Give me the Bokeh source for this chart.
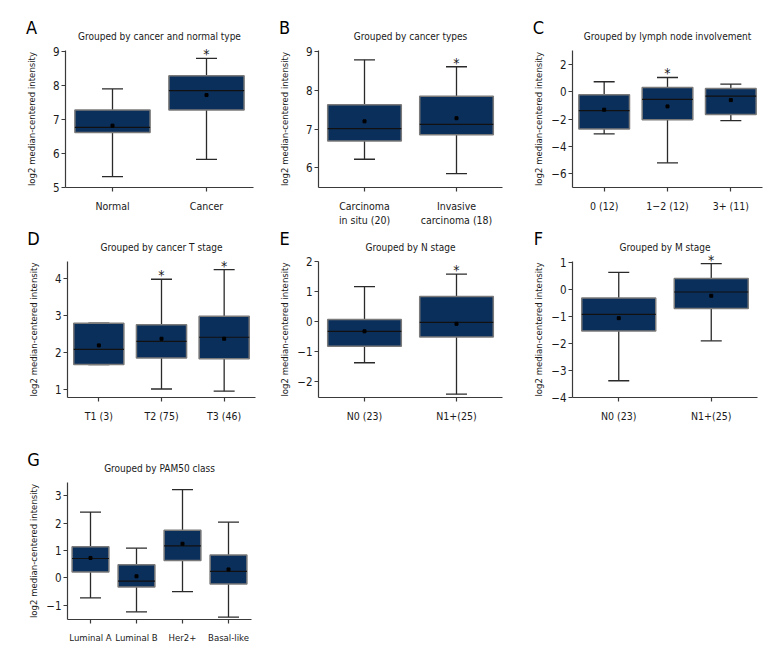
import math
from bokeh.plotting import figure
from bokeh.models import Range1d, FixedTicker, Label, ColumnDataSource
from bokeh.layouts import column, row
from bokeh.embed import file_html
from bokeh.resources import INLINE
from bokeh.core.properties import value

# ---------------- data ----------------
A_cats = ["Normal", "Cancer"]
A_lower = [5.32, 5.83]
A_q1 = [6.62, 7.28]
A_median = [6.77, 7.85]
A_q3 = [7.28, 8.29]
A_upper = [7.90, 8.80]
A_mean = [6.82, 7.72]
A_sig = [False, True]
A_yticks = [5, 6, 7, 8, 9]

B_cats = ["Carcinoma\nin situ (20)", "Invasive\ncarcinoma (18)"]
B_lower = [6.22, 5.85]
B_q1 = [6.69, 6.85]
B_median = [7.01, 7.12]
B_q3 = [7.63, 7.85]
B_upper = [8.79, 8.61]
B_mean = [7.20, 7.28]
B_sig = [False, True]
B_yticks = [6, 7, 8, 9]

C_cats = ["0 (12)", "1\u22122 (12)", "3+ (11)"]
C_lower = [-3.09, -5.20, -2.12]
C_q1 = [-2.73, -2.05, -1.68]
C_median = [-1.39, -0.57, -0.33]
C_q3 = [-0.23, 0.30, 0.23]
C_upper = [0.72, 1.03, 0.55]
C_mean = [-1.32, -1.08, -0.62]
C_sig = [False, True, False]
C_yticks = [-6, -4, -2, 0, 2]

D_cats = ["T1 (3)", "T2 (75)", "T3 (46)"]
D_lower = [1.66, 1.00, 0.94]
D_q1 = [1.66, 1.84, 1.82]
D_median = [2.07, 2.29, 2.40]
D_q3 = [2.78, 2.74, 2.97]
D_upper = [2.78, 3.97, 4.23]
D_mean = [2.18, 2.36, 2.36]
D_sig = [False, True, True]
D_yticks = [1, 2, 3, 4]

E_cats = ["N0 (23)", "N1+(25)"]
E_lower = [-1.38, -2.43]
E_q1 = [-0.83, -0.52]
E_median = [-0.33, -0.03]
E_q3 = [0.06, 0.83]
E_upper = [1.16, 1.58]
E_mean = [-0.33, -0.08]
E_sig = [False, True]
E_yticks = [-2, -1, 0, 1, 2]

F_cats = ["N0 (23)", "N1+(25)"]
F_lower = [-3.38, -1.90]
F_q1 = [-1.54, -0.70]
F_median = [-0.92, -0.09]
F_q3 = [-0.31, 0.41]
F_upper = [0.64, 0.96]
F_mean = [-1.06, -0.23]
F_sig = [False, True]
F_yticks = [-4, -3, -2, -1, 0, 1]

G_cats = ["Luminal A", "Luminal B", "Her2+", "Basal-like"]
G_lower = [-0.73, -1.24, -0.50, -1.43]
G_q1 = [0.22, -0.33, 0.64, -0.22]
G_median = [0.71, -0.12, 1.17, 0.24]
G_q3 = [1.14, 0.48, 1.74, 0.84]
G_upper = [2.41, 1.09, 3.23, 2.04]
G_mean = [0.73, 0.06, 1.25, 0.31]
G_sig = [False, False, False, False]
G_yticks = [-1, 0, 1, 2, 3]

titles = ["Grouped by cancer and normal type", "Grouped by cancer types",
          "Grouped by lymph node involvement", "Grouped by cancer T stage",
          "Grouped by N stage", "Grouped by M stage", "Grouped by PAM50 class"]
letters = ["A", "B", "C", "D", "E", "F", "G"]
y_label = "log2 median-centered intensity"

# ---------------- style ----------------
FONT = "'Liberation Sans Narrow', 'DejaVu Sans Condensed', sans-serif"
BOX_FILL = "#0b2f5b"
BOX_LINE = "#7a7a7a"
WHISK = "#2a2a2a"
AXIS = "#3a3a3a"
TEXT = "#1a1a1a"


def panel(letter, title, cats, lower, q1, med, q3, upper, mean, sig, yticks,
          ystart, yend, geo, xfont="10.5px"):
    # geo: pixel geometry of the panel (picture coordinates)
    fig_left, fig_w, axis_x, right_x, row_top, row_h, top_px, axis_y = geo
    n = len(cats)
    ppx = (right_x - axis_x) / n                 # pixels per category
    ppy = (axis_y - top_px) / (yend - ystart)   # pixels per y unit
    x0 = 0.5 - (axis_x - fig_left) / ppx
    x1 = x0 + fig_w / ppx
    y0 = ystart - (row_top + row_h - axis_y) / ppy
    y1 = ystart + (axis_y - row_top) / ppy

    def dx(px):
        return 0.5 + (px - axis_x) / ppx

    def dy(py):
        return ystart + (axis_y - py) / ppy

    p = figure(x_range=Range1d(x0, x1), y_range=Range1d(y0, y1),
               frame_width=fig_w, frame_height=row_h,
               min_border=0, min_border_left=0, min_border_right=0,
               min_border_top=0, min_border_bottom=0,
               output_backend="svg", toolbar_location=None)
    p.outline_line_color = None
    p.xgrid.visible = False
    p.ygrid.visible = False

    xs = list(range(1, n + 1))
    src = ColumnDataSource(dict(x=xs, lower=lower, q1=q1, med=med, q3=q3,
                                upper=upper, mean=mean))
    # whiskers
    p.segment(x0="x", y0="q3", x1="x", y1="upper", source=src, line_color=WHISK, line_width=1.3)
    p.segment(x0="x", y0="lower", x1="x", y1="q1", source=src, line_color=WHISK, line_width=1.3)
    p.scatter(x="x", y="upper", source=src, marker="dash", size=21, line_color=WHISK, line_width=1.3)
    p.scatter(x="x", y="lower", source=src, marker="dash", size=21, line_color=WHISK, line_width=1.3)
    # boxes
    p.vbar(x="x", bottom="q1", top="q3", width=0.8, source=src,
           fill_color=BOX_FILL, line_color=BOX_LINE, line_width=1.5)
    # median
    p.vbar(x="x", bottom="med", top="med", width=0.8, source=src,
           fill_alpha=0, line_color="#111111", line_width=1.2)
    # mean
    p.scatter(x="x", y="mean", source=src, marker="square", size=3,
              fill_color="black", line_color="black")
    # significance stars
    sx = [x for x, s in zip(xs, sig) if s]
    sy = [u for u, s in zip(upper, sig) if s]
    if sx:
        p.text(x=sx, y=sy, text=["*"] * len(sx), text_align="center",
               text_baseline="bottom", y_offset=4, text_font=value(FONT),
               text_font_size="14px", text_color=TEXT)

    # axes (drawn at fixed data locations inside the full-size frame)
    for ax in (p.xaxis, p.yaxis):
        ax.axis_line_color = AXIS
        ax.axis_line_width = 1.2
        ax.major_tick_line_color = AXIS
        ax.major_tick_line_width = 1.2
        ax.major_tick_out = 4
        ax.major_tick_in = 0
        ax.minor_tick_line_color = None
        ax.major_label_text_font = FONT
        ax.major_label_text_color = TEXT
    p.xaxis.fixed_location = ystart
    p.xaxis.ticker = FixedTicker(ticks=xs)
    p.xaxis.major_label_overrides = {x: c for x, c in zip(xs, cats)}
    p.xaxis.bounds = (0.5, n + 0.5)
    p.xaxis.major_label_text_font_size = xfont
    p.xaxis.major_label_standoff = 8
    p.yaxis.fixed_location = 0.5
    p.yaxis.bounds = (ystart, yend)
    p.yaxis.ticker = FixedTicker(ticks=yticks)
    p.yaxis.major_label_overrides = {t: str(t).replace("-", "\u2212") for t in yticks}
    p.yaxis.major_label_text_font_size = "11.5px"
    p.yaxis.major_label_standoff = 2

    p.add_layout(Label(x=dx(axis_x - 34), y=dy((axis_y + top_px) / 2), angle=math.pi / 2,
                       text=y_label, text_align="center", text_baseline="middle",
                       text_font=FONT, text_font_size="9.5px", text_color=TEXT))
    p.add_layout(Label(x=dx((axis_x + right_x) / 2), y=dy(top_px - 14), text=title,
                       text_align="center", text_baseline="middle",
                       text_font=FONT, text_font_size="10px", text_color=TEXT))
    p.add_layout(Label(x=dx(axis_x - 34), y=dy(top_px - 23), text=letter,
                       text_align="center", text_baseline="middle",
                       text_font=FONT, text_font_size="18px", text_color="#000000"))
    return p


# geometry: fig_left, fig_width, axis_x, right_x, row_top, row_height, data_top, axis_y
pA = panel(letters[0], titles[0], A_cats, A_lower, A_q1, A_median, A_q3, A_upper, A_mean, A_sig,
           A_yticks, 5.0, 9.03, (0, 263, 65, 253, 0, 227, 50, 187))
pB = panel(letters[1], titles[1], B_cats, B_lower, B_q1, B_median, B_q3, B_upper, B_mean, B_sig,
           B_yticks, 5.49, 9.03, (263, 255, 318, 502, 0, 227, 50, 187))
pC = panel(letters[2], titles[2], C_cats, C_lower, C_q1, C_median, C_q3, C_upper, C_mean, C_sig,
           C_yticks, -7.0, 3.0, (518, 254, 572, 762, 0, 227, 50, 187))

pD = panel(letters[3], titles[3], D_cats, D_lower, D_q1, D_median, D_q3, D_upper, D_mean, D_sig,
           D_yticks, 0.77, 4.45, (0, 263, 67, 255, 227, 216, 261, 397))
pE = panel(letters[4], titles[4], E_cats, E_lower, E_q1, E_median, E_q3, E_upper, E_mean, E_sig,
           E_yticks, -2.54, 2.0, (263, 255, 318, 502, 227, 216, 261, 397))
pF = panel(letters[5], titles[5], F_cats, F_lower, F_q1, F_median, F_q3, F_upper, F_mean, F_sig,
           F_yticks, -4.0, 1.04, (518, 254, 572, 757, 227, 216, 261, 397))

pG = panel(letters[6], titles[6], G_cats, G_lower, G_q1, G_median, G_q3, G_upper, G_mean, G_sig,
           G_yticks, -1.52, 3.49, (0, 263, 67, 251, 443, 221, 482, 619), xfont="9.5px")

layout = column(row(pA, pB, pC), row(pD, pE, pF), row(pG))

open("out.html", "w").write(file_html(layout, INLINE))
